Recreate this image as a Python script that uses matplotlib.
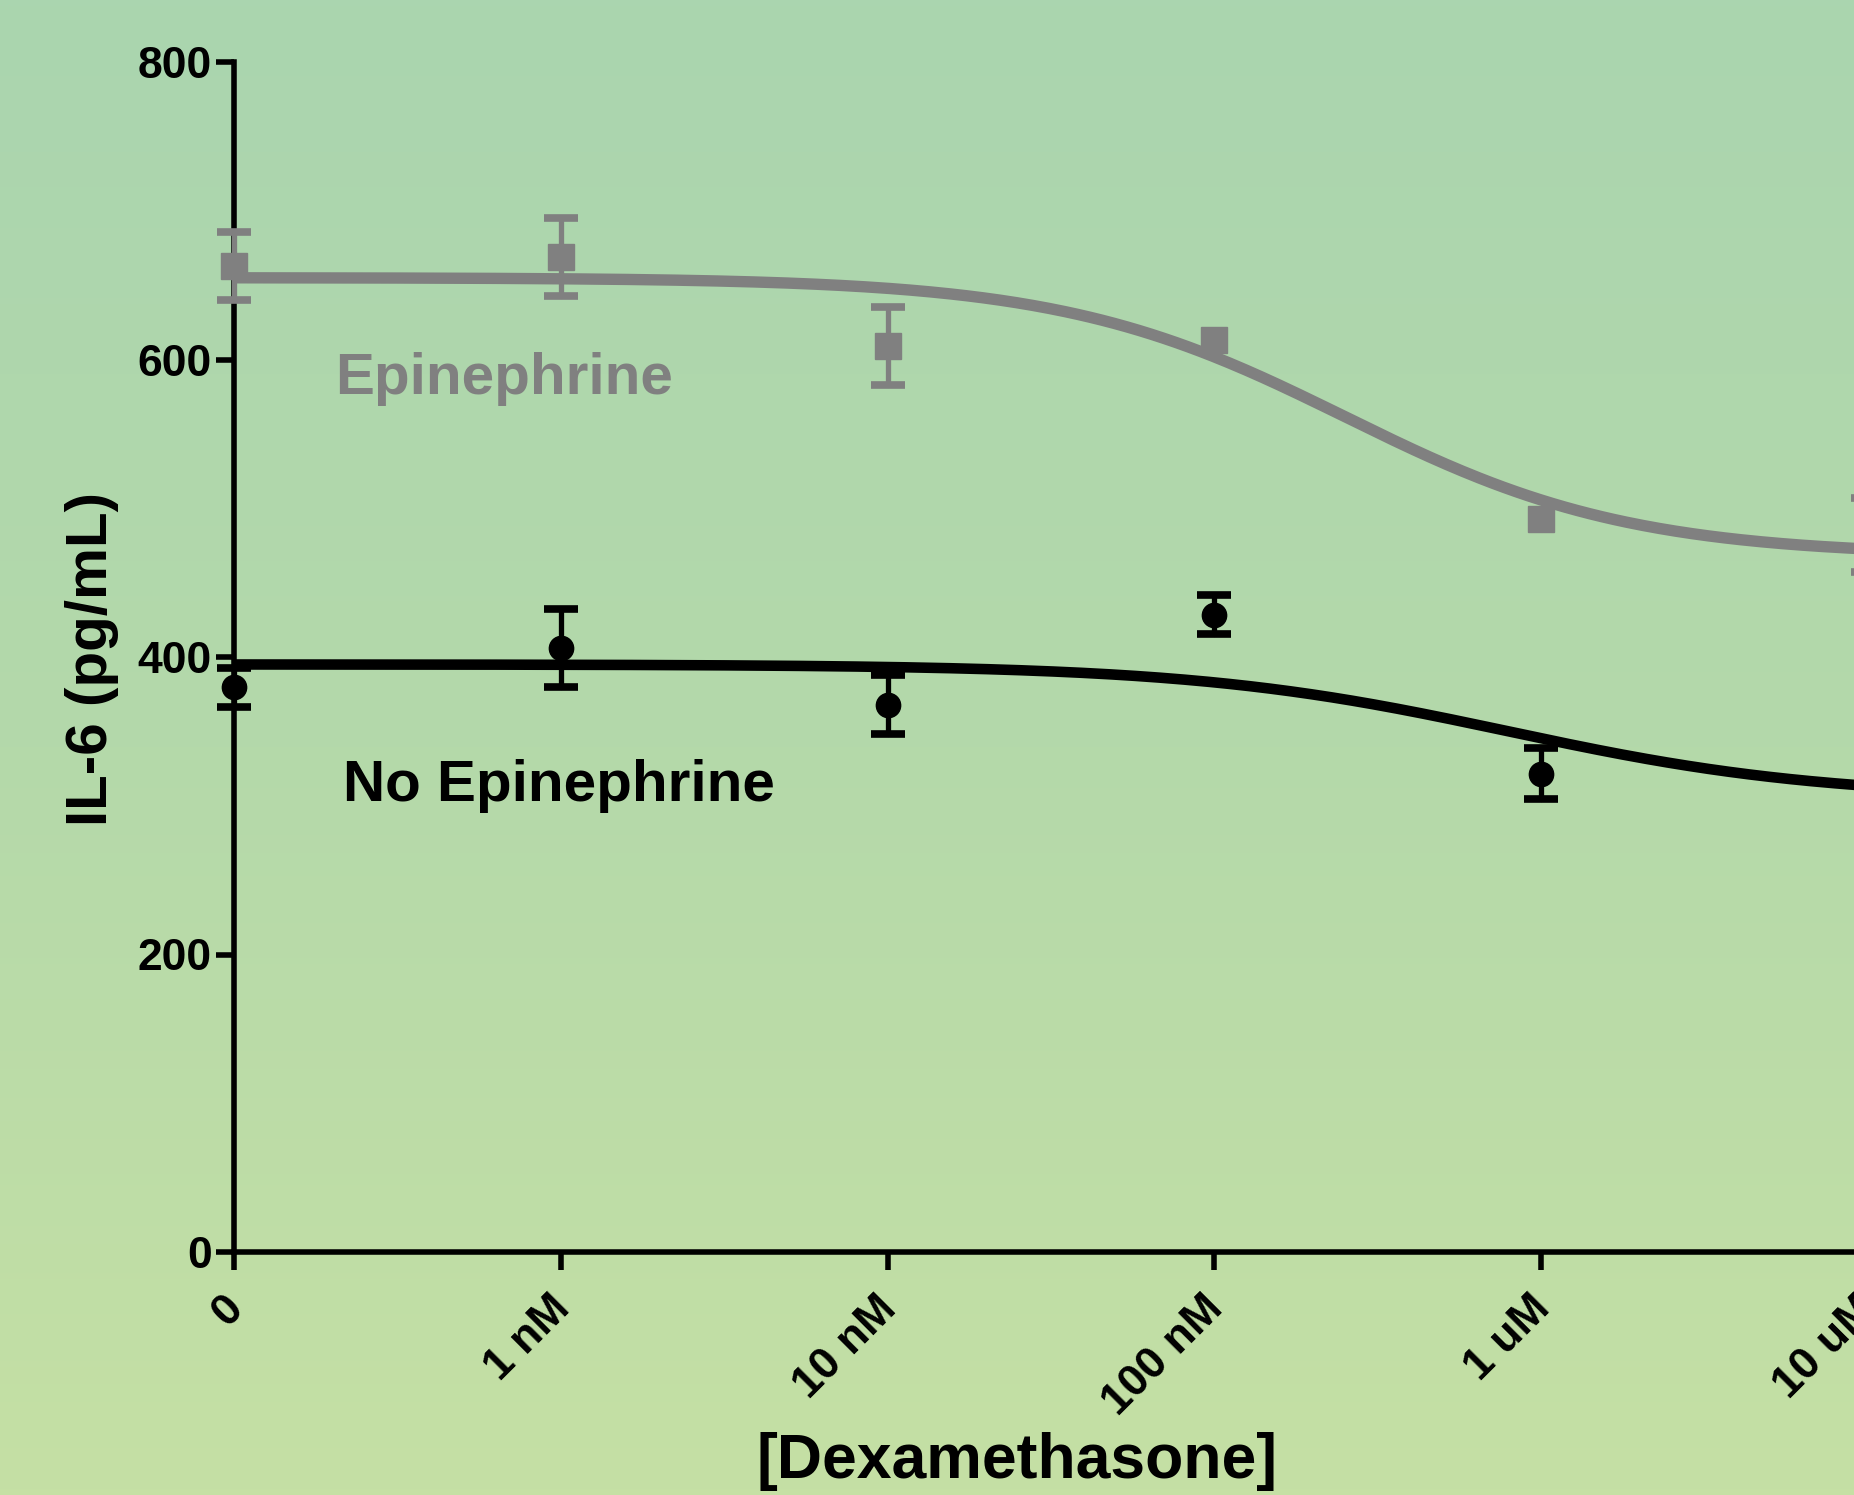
import numpy as np
import matplotlib
matplotlib.use("Agg")
import matplotlib.pyplot as plt
from matplotlib.colors import LinearSegmentedColormap
import matplotlib.transforms as mtransforms

plt.rcParams['font.family'] = ['Liberation Sans', 'DejaVu Sans']
plt.rcParams['font.weight'] = 'bold'

# ---- data ----
dose_labels = ["0", "1 nM", "10 nM", "100 nM", "1 uM", "10 uM"]
dose_pos = [0, 1, 2, 3, 4, 5]

epi_mean = [663, 669, 609, 613, 493, 482]
epi_sem = [23, 26, 26, 0, 0, 25]

noepi_mean = [379.5, 406, 368, 428.5, 321.5, 312]
noepi_sem = [13, 26, 20, 13, 17, 0]

# fitted dose-response parameters (top, bottom, logEC50 position, hill)
epi_fit = dict(top=655, bottom=468, x50=3.4, hill=1.0)
noepi_fit = dict(top=395, bottom=305, x50=3.9, hill=0.9)

y_ticks = [0, 200, 400, 600, 800]

GRAY = "#808080"
BLACK = "#000000"

W, H = 1854, 1495
fig = plt.figure(figsize=(W / 100, H / 100), dpi=100)

# background gradient
bg = fig.add_axes([0, 0, 1, 1], zorder=-10)
cmap = LinearSegmentedColormap.from_list("bg", ["#AAD5AF", "#B4D9AA", "#C5E0A4"])
grad = np.linspace(0, 1, 256).reshape(-1, 1)
bg.imshow(grad, aspect="auto", cmap=cmap, extent=[0, 1, 0, 1], origin="upper")
bg.set_axis_off()

ax_left = 234 / W
ax_right = 1868 / W
ax_bottom = (H - 1252) / H
ax_top = (H - 62) / H
ax = fig.add_axes([ax_left, ax_bottom, ax_right - ax_left, ax_top - ax_bottom])
ax.set_facecolor("none")
ax.set_xlim(0, 5)
ax.set_ylim(0, 800)

for s in ["top", "right"]:
    ax.spines[s].set_visible(False)
for s in ["left", "bottom"]:
    ax.spines[s].set_linewidth(4)
    ax.spines[s].set_capstyle("projecting")


def curve(x, p):
    return p["bottom"] + (p["top"] - p["bottom"]) / (1 + 10 ** ((x - p["x50"]) * p["hill"]))


xs = np.linspace(0, 5, 400)
ax.plot(xs, curve(xs, epi_fit), color=GRAY, lw=8.2, zorder=3, solid_capstyle="butt")
ax.plot(xs, curve(xs, noepi_fit), color=BLACK, lw=7.6, zorder=4, solid_capstyle="butt")


def draw_series(mean, sem, color, marker, ms, z):
    xm = np.array(dose_pos, dtype=float)
    m = np.array(mean, dtype=float)
    e = np.array(sem, dtype=float)
    sel = e > 0
    eb = ax.errorbar(xm[sel], m[sel], yerr=e[sel], fmt="none", ecolor=color,
                     elinewidth=3.8, capsize=12, capthick=5.5, zorder=z)
    for c in eb[1]:
        c.set_clip_on(False)
    for c in eb[2]:
        c.set_clip_on(False)
        c.set_capstyle("round")
    ax.plot(xm, m, linestyle="none", marker=marker, ms=ms, color=color,
            mec=color, zorder=z + 1, clip_on=False)


draw_series(epi_mean, epi_sem, GRAY, "s", 18.5, 5)
draw_series(noepi_mean, noepi_sem, BLACK, "o", 17.5, 7)

# ticks
ax.set_yticks(y_ticks)
ax.set_yticklabels([str(v) for v in y_ticks], fontsize=32, fontweight="bold")
ax.set_xticks(dose_pos)
ax.tick_params(axis="y", length=13, width=4, pad=3, direction="out")
ax.tick_params(axis="x", length=13, width=4, direction="out", labelbottom=False)
for t in ax.xaxis.get_major_ticks() + ax.yaxis.get_major_ticks():
    t.tick1line.set_solid_capstyle("round")

# rotated x tick labels, placed at the ticks
xlab_tr = ax.get_xaxis_transform() + mtransforms.ScaledTranslation(
    17 / 100, -36 / 100, fig.dpi_scale_trans)
for p, lab in zip(dose_pos, dose_labels):
    ax.text(p, 0, lab, transform=xlab_tr, rotation=45, ha="right", va="top",
            fontsize=32, fontweight="bold", clip_on=False)

# series labels
ax.text(0.309, 577, "Epinephrine", color=GRAY, fontsize=42, fontweight="bold",
        ha="left", va="baseline")
ax.text(0.334, 303, "No Epinephrine", color=BLACK, fontsize=42, fontweight="bold",
        ha="left", va="baseline")

# axis labels
fig.text(92 / W, (H - 659) / H, "IL-6 (pg/mL)", rotation=90, fontsize=42,
         fontweight="bold", ha="center", va="center")
fig.text(1017 / W, (H - 1478) / H, "[Dexamethasone]", fontsize=45,
         fontweight="bold", ha="center", va="baseline")

fig.savefig("out.png", dpi=100)
